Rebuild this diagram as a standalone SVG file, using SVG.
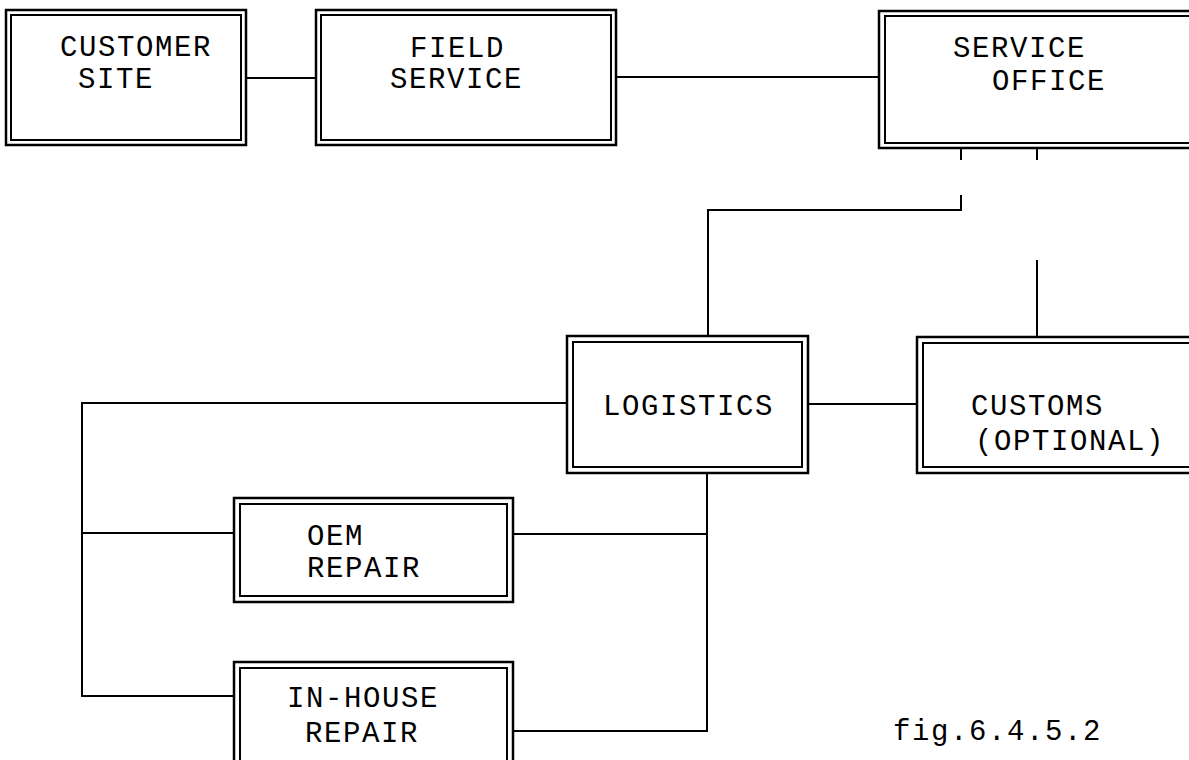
<svg xmlns="http://www.w3.org/2000/svg" width="1189" height="760" viewBox="0 0 1189 760">
<style>
.o{fill:none;stroke:#000;stroke-width:2.5}
.i{fill:none;stroke:#000;stroke-width:2}
.c{fill:none;stroke:#000;stroke-width:2}
text{font-family:"Liberation Mono","Courier New",monospace;font-size:29px;letter-spacing:1.6px;fill:#000}
</style>
<rect x="0" y="0" width="1189" height="760" fill="#fff"/>
<g id="connectors">
<path class="c" d="M246 78H317"/>
<path class="c" d="M616 77H880"/>
<path class="c" d="M961 148V160M1037 148V160"/>
<path class="c" d="M961 195V210H708V337"/>
<path class="c" d="M1037 260V337"/>
<path class="c" d="M808 404H917"/>
<path class="c" d="M567 403H82V696H234M82 533H234"/>
<path class="c" d="M707 473V731H513M513 534H707"/>
</g>
<g id="customer-site">
<rect class="o" x="6" y="10" width="240" height="135"/>
<rect class="i" x="11" y="15" width="230" height="125"/>
<text x="60" y="56">CUSTOMER</text>
<text x="78" y="88">SITE</text>
</g>
<g id="field-service">
<rect class="o" x="316" y="10" width="300" height="135"/>
<rect class="i" x="321" y="15" width="290" height="125"/>
<text x="410" y="57">FIELD</text>
<text x="390" y="88">SERVICE</text>
</g>
<g id="service-office">
<rect class="o" x="879" y="11" width="320" height="137"/>
<rect class="i" x="885" y="16" width="310" height="127"/>
<text x="953" y="57">SERVICE</text>
<text x="992" y="90">OFFICE</text>
</g>
<g id="logistics">
<rect class="o" x="567" y="336" width="241" height="137"/>
<rect class="i" x="573" y="342" width="229" height="125"/>
<text x="603" y="415">LOGISTICS</text>
</g>
<g id="customs">
<rect class="o" x="917" y="337" width="280" height="136"/>
<rect class="i" x="923" y="343" width="270" height="124"/>
<text x="971" y="415">CUSTOMS</text>
<text x="975" y="450">(OPTIONAL)</text>
</g>
<g id="oem-repair">
<rect class="o" x="234" y="498" width="279" height="104"/>
<rect class="i" x="240" y="504" width="267" height="92"/>
<text x="307" y="545">OEM</text>
<text x="307" y="577">REPAIR</text>
</g>
<g id="in-house-repair">
<rect class="o" x="234" y="662" width="279" height="110"/>
<rect class="i" x="240" y="668" width="267" height="100"/>
<text x="287" y="707">IN-HOUSE</text>
<text x="305" y="742">REPAIR</text>
</g>
<text x="893" y="740">fig.6.4.5.2</text>
</svg>
